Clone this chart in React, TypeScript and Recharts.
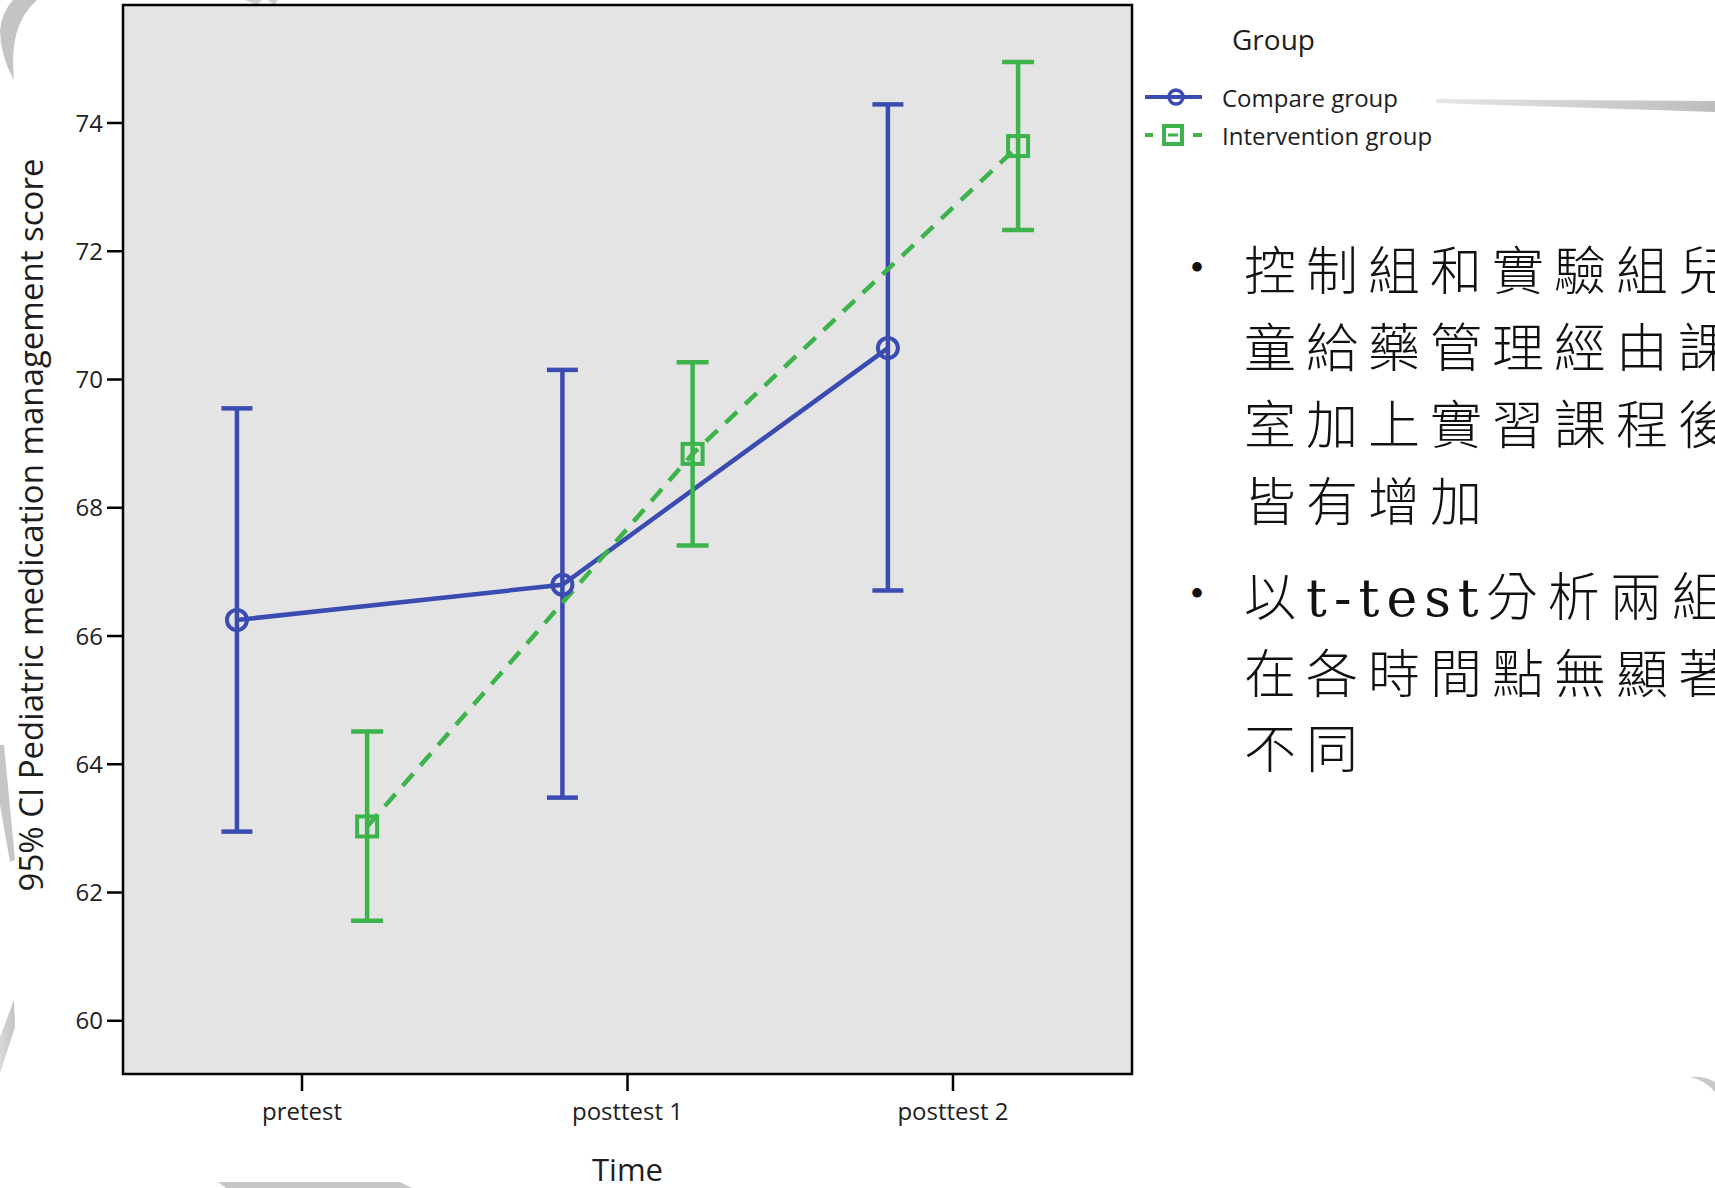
import React from 'react';
import {
  ComposedChart,
  Line,
  XAxis,
  YAxis,
  CartesianGrid,
  ErrorBar,
  ReferenceArea,
  Legend,
} from 'recharts';

// time points on the x axis
const timePoints = ['pretest', 'posttest 1', 'posttest 2'];

// Compare group: means and 95% CI bounds
const compareMean = [66.25, 66.8, 70.49];
const compareLower = [62.95, 63.48, 66.71];
const compareUpper = [69.55, 70.15, 74.29];

// Intervention group: means and 95% CI bounds
const interventionMean = [63.03, 68.84, 73.64];
const interventionLower = [61.56, 67.41, 72.33];
const interventionUpper = [64.51, 70.27, 74.95];

const yTicks = [60, 62, 64, 66, 68, 70, 72, 74];

const BLUE = '#3a4cb2';
const GREEN = '#3cb44b';
const PANEL = '#e4e4e4';
const DODGE = 0.2;
const X_DOMAIN: [number, number] = [-0.55, 2.55];
const Y_DOMAIN: [number, number] = [59.17, 75.84];

const buildSeries = (mean: number[], lower: number[], upper: number[], shift: number) =>
  mean.map((m, i) => ({
    x: i + shift,
    time: timePoints[i],
    mean: m,
    err: [m - lower[i], upper[i] - m],
  }));

const compareData = buildSeries(compareMean, compareLower, compareUpper, -DODGE);
const interventionData = buildSeries(interventionMean, interventionLower, interventionUpper, DODGE);

const SquareDot = (props: any) => {
  const { cx, cy, index } = props;
  if (cx == null || cy == null) return null;
  return (
    <rect
      key={`sq-${index}`}
      x={cx - 10}
      y={cy - 10}
      width={20}
      height={20}
      fill="none"
      stroke={GREEN}
      strokeWidth={4}
    />
  );
};

const LegendIcon = ({ kind }: { kind: string }) => {
  if (kind === 'compare') {
    return (
      <svg width={58} height={22} style={{ display: 'block' }}>
        <line x1={0} y1={11} x2={57} y2={11} stroke={BLUE} strokeWidth={4} />
        <circle cx={31} cy={11} r={7} fill="none" stroke={BLUE} strokeWidth={3.5} />
      </svg>
    );
  }
  return (
    <svg width={58} height={24} style={{ display: 'block' }}>
      <line x1={0} y1={12} x2={8} y2={12} stroke={GREEN} strokeWidth={4} />
      <rect x={19} y={3} width={18} height={18} fill="none" stroke={GREEN} strokeWidth={4} />
      <line x1={23} y1={12} x2={33} y2={12} stroke={GREEN} strokeWidth={3} />
      <line x1={48} y1={12} x2={57} y2={12} stroke={GREEN} strokeWidth={4} />
    </svg>
  );
};

const GroupLegend = (props: any) => {
  const { payload = [] } = props;
  return (
    <div style={{ fontFamily: '"Open Sans", sans-serif', color: '#1e1e1e' }}>
      <div style={{ fontSize: 28, marginLeft: 87, lineHeight: '34px' }}>Group</div>
      <div style={{ height: 22 }} />
      {payload.map((entry: any, i: number) => (
        <div key={entry.value} style={{ display: 'flex', alignItems: 'center', height: 38 }}>
          <LegendIcon kind={i === 0 ? 'compare' : 'intervention'} />
          <span style={{ fontSize: 24, marginLeft: 19, whiteSpace: 'nowrap' }}>{entry.value}</span>
        </div>
      ))}
    </div>
  );
};

const YTitle = () => (
  <text
    x={30}
    y={525}
    transform="rotate(-90 30 525)"
    textAnchor="middle"
    dominantBaseline="central"
    fontSize={33}
    fontFamily='"Open Sans", sans-serif'
    fill="#1e1e1e"
  >
    95% CI Pediatric medication management score
  </text>
);

const bulletStyle: React.CSSProperties = {
  position: 'absolute',
  left: 1190,
  fontSize: 40,
  lineHeight: '77px',
  color: '#111',
};

const noteStyle: React.CSSProperties = {
  position: 'absolute',
  left: 1244,
  fontFamily: '"Noto Sans CJK TC", "Noto Sans CJK SC", sans-serif',
  fontWeight: 300,
  fontSize: 52,
  letterSpacing: 10,
  color: '#111',
  whiteSpace: 'nowrap',
};

const lineStyle: React.CSSProperties = {
  height: 77,
  lineHeight: '77px',
  overflow: 'visible',
};

const latinStyle: React.CSSProperties = {
  fontFamily: '"DejaVu Serif", serif',
  fontWeight: 400,
  letterSpacing: 7,
  lineHeight: '0',
};

export default function App() {
  return (
    <div
      style={{
        position: 'absolute',
        left: 0,
        top: 0,
        width: 1715,
        height: 1188,
        overflow: 'hidden',
        background: '#fff',
      }}
    >
      {/* slide background strokes */}
      <svg width={1715} height={1188} style={{ position: 'absolute', left: 0, top: 0 }}>
        <defs>
          <linearGradient id="sw" x1="0" y1="0" x2="1" y2="0">
            <stop offset="0" stopColor="#e6e6e6" />
            <stop offset="1" stopColor="#bdbdbd" />
          </linearGradient>
          <linearGradient id="sl" x1="0" y1="0" x2="1" y2="0">
            <stop offset="0" stopColor="#d8d8d8" />
            <stop offset="1" stopColor="#c2c2c2" />
          </linearGradient>
        </defs>
        <path d="M13,0 L37,0 Q8,25 14,80 Q0,55 0,30 Q2,12 13,0 Z" fill="#c4c4c4" />
        <path d="M245,0 L262,0 L257,5 Z" fill="#cfcfcf" />
        <path d="M268,0 L278,0 L274,5 Z" fill="#cfcfcf" />
        <path d="M0,745 L4,745 L15,860 L10,862 L0,805 Z" fill="#c6c6c6" />
        <path d="M0,1037 L14,1000 L15,1027 L0,1073 Z" fill="url(#sl)" />
        <path d="M218,1182 L400,1182 L412,1188 L226,1188 Z" fill="#c6c6c6" />
        <path d="M1436,99 L1715,101 L1715,112 L1436,103 Z" fill="url(#sw)" />
        <path d="M1690,1077 Q1705,1080 1715,1092 L1715,1082 Q1705,1076 1690,1077 Z" fill="#c8c8c8" />
      </svg>

      <div style={{ position: 'absolute', left: 0, top: 0 }}>
        <ComposedChart
          width={1715}
          height={1188}
          margin={{ top: 5, right: 583, bottom: 54, left: 0 }}
          style={{ fontFamily: '"Open Sans", sans-serif' }}
        >
          <CartesianGrid horizontal={false} vertical={false} fill={PANEL} />
          <XAxis
            dataKey="x"
            type="number"
            domain={X_DOMAIN}
            allowDataOverflow
            ticks={[0, 1, 2]}
            tickFormatter={(v: number) => timePoints[v] ?? ''}
            height={60}
            axisLine={false}
            tickLine={{ stroke: '#000', strokeWidth: 2.5 }}
            tickSize={17}
            tickMargin={12}
            tick={{ fontSize: 24, fill: '#1e1e1e' }}
            label={{ value: 'Time', position: 'bottom', offset: 25, fontSize: 31, fill: '#1e1e1e' }}
          />
          <YAxis
            type="number"
            domain={Y_DOMAIN}
            allowDataOverflow
            ticks={yTicks}
            width={123}
            axisLine={false}
            tickLine={{ stroke: '#000', strokeWidth: 2.5 }}
            tickSize={16}
            tickMargin={4}
            tick={{ fontSize: 24, fill: '#1e1e1e' }}
            label={<YTitle />}
          />
          <ReferenceArea
            x1={X_DOMAIN[0]}
            x2={X_DOMAIN[1]}
            y1={Y_DOMAIN[0]}
            y2={Y_DOMAIN[1]}
            fill="none"
            stroke="#000"
            strokeWidth={2.5}
            ifOverflow="visible"
          />
          <Line
            data={compareData}
            dataKey="mean"
            name="Compare group"
            type="linear"
            stroke={BLUE}
            strokeWidth={4.5}
            dot={{ r: 10, fill: 'none', stroke: BLUE, strokeWidth: 4 }}
            activeDot={false}
            isAnimationActive={false}
          >
            <ErrorBar dataKey="err" width={15.5} stroke={BLUE} strokeWidth={4.5} direction="y" />
          </Line>
          <Line
            data={interventionData}
            dataKey="mean"
            name="Intervention group"
            type="linear"
            stroke={GREEN}
            strokeWidth={4.5}
            strokeDasharray="16 11"
            dot={SquareDot}
            activeDot={false}
            isAnimationActive={false}
          >
            <ErrorBar dataKey="err" width={16} stroke={GREEN} strokeWidth={4.5} direction="y" />
          </Line>
          <Legend
            layout="vertical"
            align="center"
            verticalAlign="middle"
            content={<GroupLegend />}
            wrapperStyle={{ left: 1145, top: 22, width: 320 }}
          />
        </ComposedChart>
      </div>

      {/* notes beside the chart */}
      <div style={{ ...bulletStyle, top: 229 }}>•</div>
      <div style={{ ...noteStyle, top: 229 }}>
        <div style={lineStyle}>控制組和實驗組兒</div>
        <div style={lineStyle}>童給藥管理經由課</div>
        <div style={lineStyle}>室加上實習課程後</div>
        <div style={lineStyle}>皆有增加</div>
      </div>
      <div style={{ ...bulletStyle, top: 555 }}>•</div>
      <div style={{ ...noteStyle, top: 555 }}>
        <div style={lineStyle}>
          以<span style={latinStyle}>t-test</span>分析兩組
        </div>
        <div style={{ ...lineStyle, height: 75 }}>在各時間點無顯著</div>
        <div style={lineStyle}>不同</div>
      </div>
    </div>
  );
}
